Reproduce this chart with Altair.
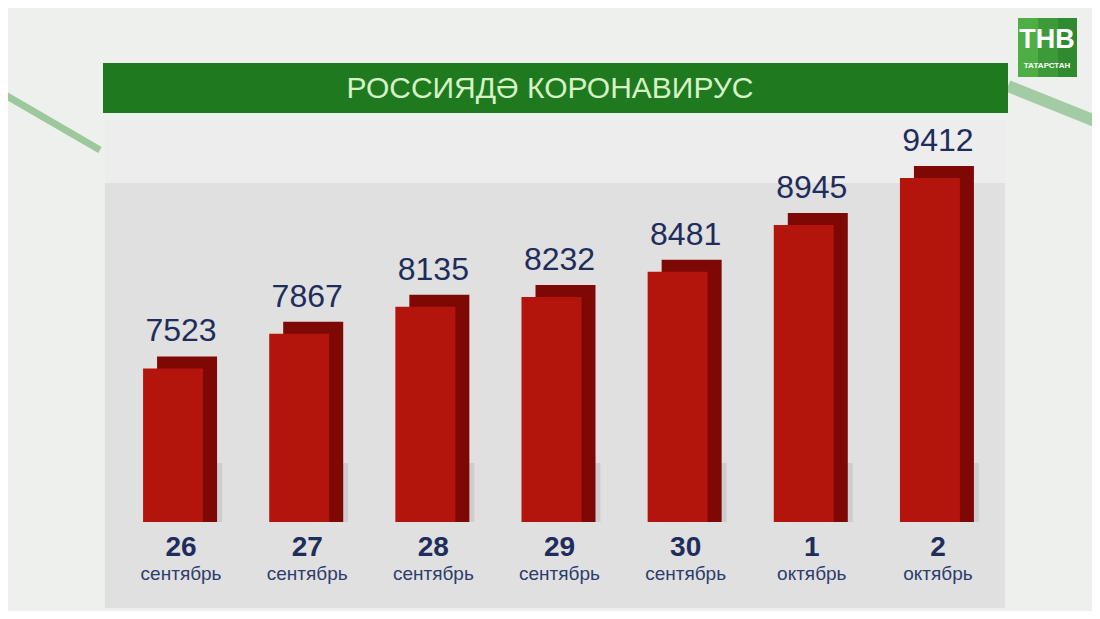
import altair as alt
import pandas as pd

days = ["26", "27", "28", "29", "30", "1", "2"]
months = ["сентябрь", "сентябрь", "сентябрь", "сентябрь", "сентябрь", "октябрь", "октябрь"]
values = [7523, 7867, 8135, 8232, 8481, 8945, 9412]
title_text = "РОССИЯДӘ КОРОНАВИРУС"
logo_main = "ТНВ"
logo_sub = "ТАТАРСТАН"

df = pd.DataFrame({"day": days, "month": months, "value": values})
one = pd.DataFrame({"k": [0]})

FONT = "Liberation Sans"
NAVY = "#1e2d5c"
BASE = 6000

x = alt.X("day:N", sort=days, axis=None,
          scale=alt.Scale(range=[110, 993], paddingInner=0.5, paddingOuter=0.25))
y = alt.Y("value:Q", axis=None,
          scale=alt.Scale(domain=[BASE, 9412], range=[514, 170], zero=False, nice=False))

base = alt.Chart(df)

# decorative background panel
panel = alt.Chart(one).mark_rect(color="#e0e0e0").encode(
    x=alt.value(97), x2=alt.value(997), y=alt.value(175), y2=alt.value(600))
panel_top = alt.Chart(one).mark_rect(color="#ededed").encode(
    x=alt.value(97), x2=alt.value(997), y=alt.value(112), y2=alt.value(175))

# green decorative strokes
deco1 = alt.Chart(one).mark_rule(color="#5aa85a", strokeWidth=7, opacity=0.55).encode(
    x=alt.value(-8), y=alt.value(84), x2=alt.value(92), y2=alt.value(142))
deco2 = alt.Chart(one).mark_rule(color="#5aa85a", strokeWidth=12, opacity=0.5).encode(
    x=alt.value(1000), y=alt.value(78), x2=alt.value(1092), y2=alt.value(115))

# title bar
title_bar = alt.Chart(one).mark_rect(color="#1f7a1f").encode(
    x=alt.value(95), x2=alt.value(1000), y=alt.value(55), y2=alt.value(105))
title = alt.Chart(one).mark_text(font=FONT, fontSize=30, color="#d6f2c6",
                                 align="center", baseline="middle").encode(
    x=alt.value(542), y=alt.value(81), text=alt.value(title_text))

# logo
logo1 = alt.Chart(one).mark_rect(color="#4fae43").encode(
    x=alt.value(1010), x2=alt.value(1030), y=alt.value(10), y2=alt.value(69))
logo2 = alt.Chart(one).mark_rect(color="#3c9b38").encode(
    x=alt.value(1030), x2=alt.value(1050), y=alt.value(10), y2=alt.value(69))
logo3 = alt.Chart(one).mark_rect(color="#2f8a30").encode(
    x=alt.value(1050), x2=alt.value(1069), y=alt.value(10), y2=alt.value(69))
logo_t = alt.Chart(one).mark_text(font=FONT, fontSize=27, fontWeight="bold", color="white",
                                  align="center", baseline="middle").encode(
    x=alt.value(1039), y=alt.value(32), text=alt.value(logo_main))
logo_s = alt.Chart(one).mark_text(font=FONT, fontSize=8, fontWeight="bold", color="white",
                                  align="center", baseline="middle").encode(
    x=alt.value(1039), y=alt.value(58), text=alt.value(logo_sub))

# bar shadows
shadow = base.mark_bar(width=22, color="#c8c8c8", xOffset=30, opacity=0.8).encode(
    x=x, y=alt.value(455), y2=alt.value(514))
# 3D back (top + side faces)
back = base.mark_bar(width=60, color="#7e0804", xOffset=6, yOffset=-12).encode(
    x=x, y=y, y2=alt.datum(BASE))
front = base.mark_bar(width=60, color="#b3140c", xOffset=-8).encode(
    x=x, y=y, y2=alt.datum(BASE))

labels = base.mark_text(font=FONT, fontSize=32, color=NAVY, baseline="bottom",
                        dy=-20).encode(x=x, y=y, text="value:Q")
day_lbl = base.mark_text(font=FONT, fontSize=28, fontWeight="bold", color=NAVY,
                         baseline="middle").encode(x=x, y=alt.value(540), text="day:N")
mon_lbl = base.mark_text(font=FONT, fontSize=19, color="#2d3d6d",
                         baseline="middle").encode(x=x, y=alt.value(566), text="month:N")

chart = alt.layer(
    deco1, deco2, panel_top, panel, title_bar, title, logo1, logo2, logo3, logo_t, logo_s,
    shadow, back, front, labels, day_lbl, mon_lbl
).properties(
    width=1084, height=603, background="#eef0ee", padding=0,
    autosize=alt.AutoSizeParams(type="none")
).configure_view(stroke=None)

chart.save("out.html", embed_options={"renderer": "svg", "actions": False})
